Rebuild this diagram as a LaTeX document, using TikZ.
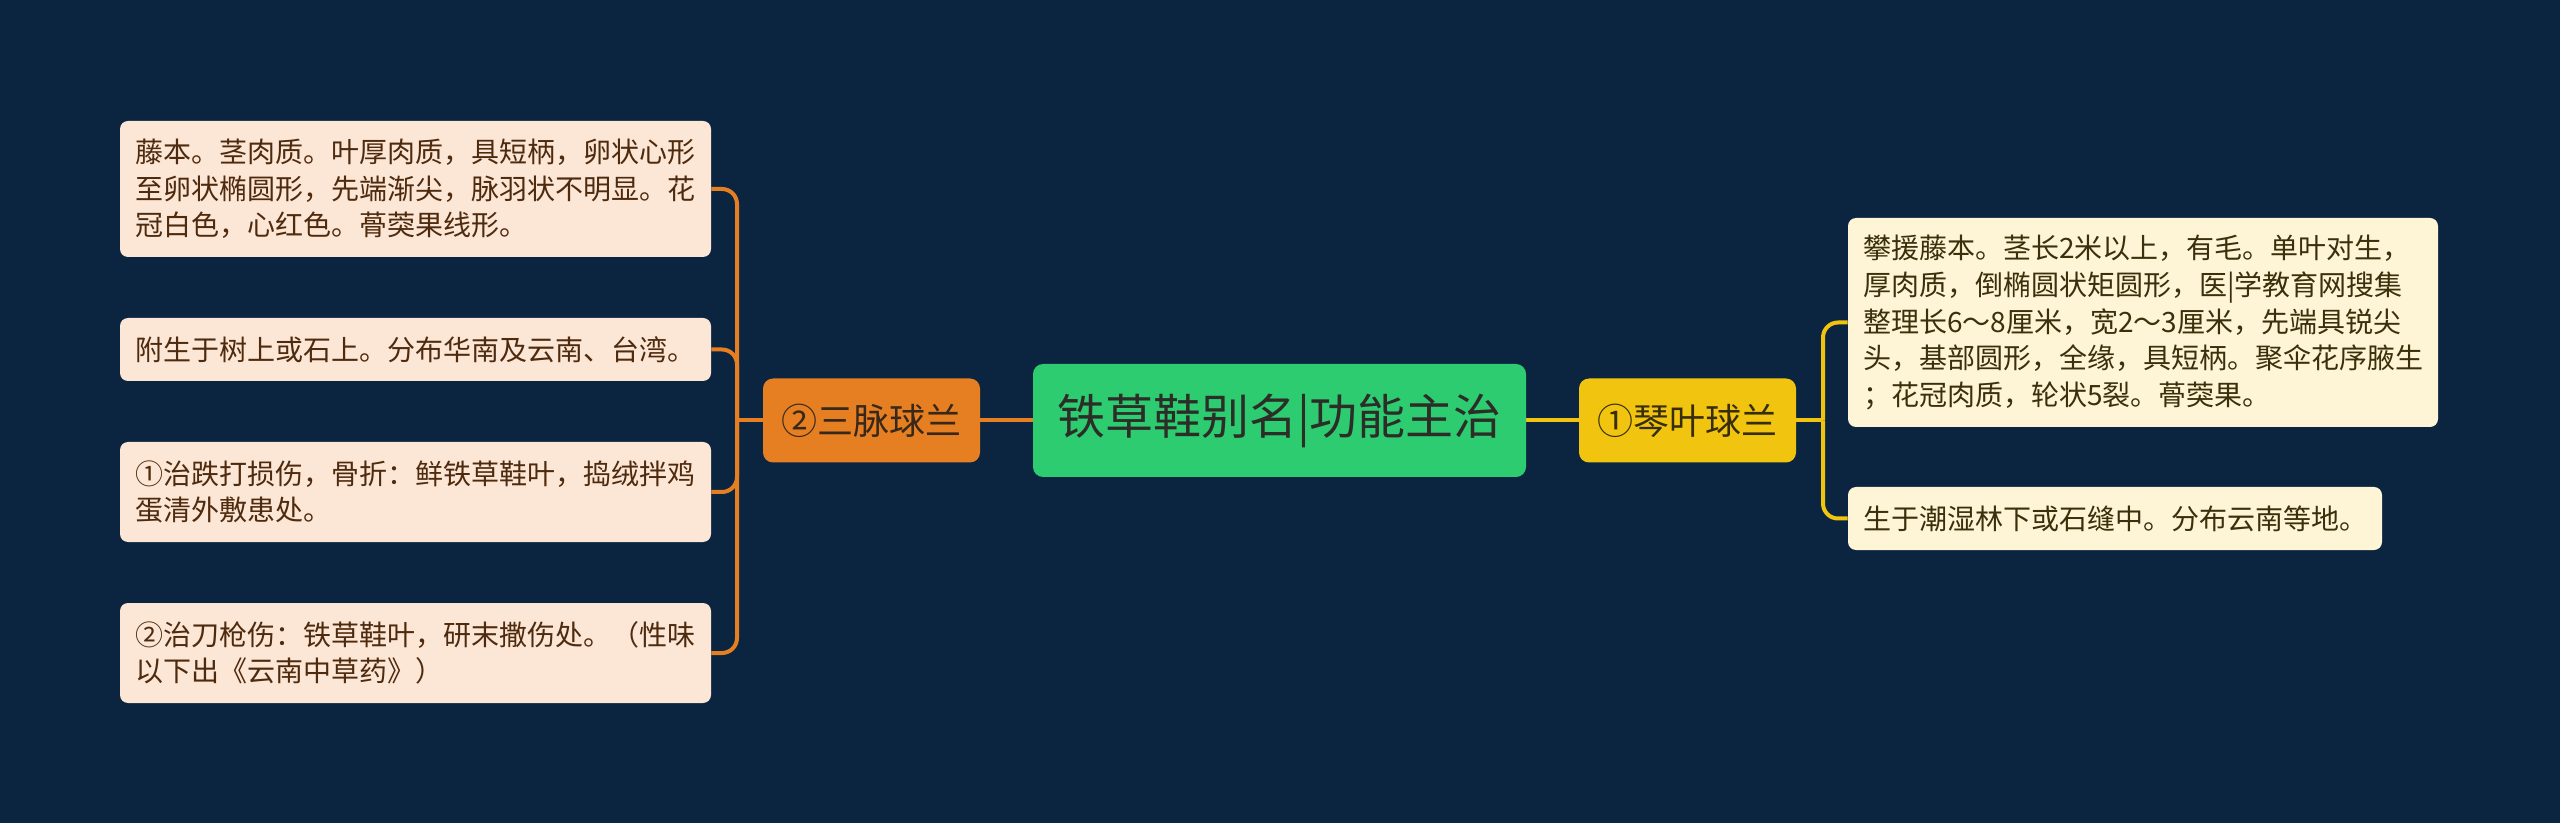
\documentclass[tikz,border=0pt]{standalone}
\usepackage{fontspec}
\setmainfont{Noto Sans CJK SC}
\usetikzlibrary{backgrounds}
\definecolor{bgc}{RGB}{11,36,64}
\definecolor{orangec}{RGB}{230,126,34}
\definecolor{greenc}{RGB}{46,204,113}
\definecolor{yellowc}{RGB}{241,196,15}
\definecolor{peach}{RGB}{252,230,213}
\definecolor{cream}{RGB}{253,245,214}
\definecolor{ltext}{RGB}{78,42,14}
\definecolor{rtext}{RGB}{58,48,12}
\definecolor{ntext}{RGB}{45,45,40}
\tikzset{
  leafL/.style={draw=none, fill=peach, rounded corners=4pt, inner sep=0pt,
    text=ltext, align=left, minimum width=295.5pt,
    font=\fontsize{14pt}{18.35pt}\selectfont},
  leafR/.style={draw=none, fill=cream, rounded corners=4pt, inner sep=0pt,
    text=rtext, align=left,
    font=\fontsize{14pt}{18.35pt}\selectfont},
  mainbox/.style={draw=none, rounded corners=5pt, inner sep=0pt,
    minimum width=108.5pt, minimum height=42pt,
    font=\fontsize{18pt}{22pt}\selectfont},
  linkL/.style={draw=orangec, line width=2pt, rounded corners=7.5pt},
  linkR/.style={draw=yellowc, line width=2pt, rounded corners=7.5pt}
}
\begin{document}
\begin{tikzpicture}[x=0.5pt,y=-0.5pt]
\begin{scope}[on background layer]
  \fill[bgc] (0,0) rectangle (2560,823);
\end{scope}
\useasboundingbox (0,0) rectangle (2560,823);

% central topic
\node[draw=none, fill=greenc, rounded corners=5pt, inner sep=0pt,
  minimum width=246.5pt, minimum height=56.5pt, text=ntext,
  font=\fontsize{24pt}{28pt}\selectfont] (root) at (1279.5,420.5) {铁草鞋别名|功能主治};

% main branches
\node[mainbox, fill=orangec, text={rgb,255:red,55;green,40;blue,25}] (sanmai) at (871.5,420.5) {②三脉球兰};
\node[mainbox, fill=yellowc, text={rgb,255:red,55;green,45;blue,10}] (qinye) at (1687.5,420.5) {①琴叶球兰};

% left leaves
\node[leafL, minimum height=68pt] (L1) at (415.5,189) {藤本。茎肉质。叶厚肉质，具短柄，卵状心形\\至卵状椭圆形，先端渐尖，脉羽状不明显。花\\冠白色，心红色。蓇葖果线形。};
\node[leafL, minimum height=31.5pt] (L2) at (415.5,349.5) {附生于树上或石上。分布华南及云南、台湾。};
\node[leafL, minimum height=50pt] (L3) at (415.5,492) {①治跌打损伤，骨折：鲜铁草鞋叶，捣绒拌鸡\\蛋清外敷患处。};
\node[leafL, minimum height=50pt] (L4) at (415.5,653) {②治刀枪伤：铁草鞋叶，研末撒伤处。（性味\\以下出《云南中草药》）};

% right leaves
\node[leafR, minimum width=295pt, minimum height=104.5pt] (R1) at (2143,322.5) {攀援藤本。茎长2米以上，有毛。单叶对生，\\厚肉质，倒椭圆状矩圆形，医|学教育网搜集\\整理长6～8厘米，宽2～3厘米，先端具锐尖\\头，基部圆形，全缘，具短柄。聚伞花序腋生\\；花冠肉质，轮状5裂。蓇葖果。};
\node[leafR, minimum width=267pt, minimum height=31.5pt] (R2) at (2115,518.5) {生于潮湿林下或石缝中。分布云南等地。};

% bus points
\coordinate (busL) at (737,420.5);
\coordinate (busR) at (1823,420.5);

\begin{scope}[on background layer]
  \draw[linkL] (root.west) -- (sanmai.east);
  \draw[linkR] (root.east) -- (qinye.west);
  \draw[linkL] (sanmai.west) -- (busL);
  \draw[linkL] (busL) |- (L1.east);
  \draw[linkL] (busL) |- (L2.east);
  \draw[linkL] (busL) |- (L3.east);
  \draw[linkL] (busL) |- (L4.east);
  \draw[linkR] (qinye.east) -- (busR);
  \draw[linkR] (busR) |- (R1.west);
  \draw[linkR] (busR) |- (R2.west);
\end{scope}
\end{tikzpicture}
\end{document}
